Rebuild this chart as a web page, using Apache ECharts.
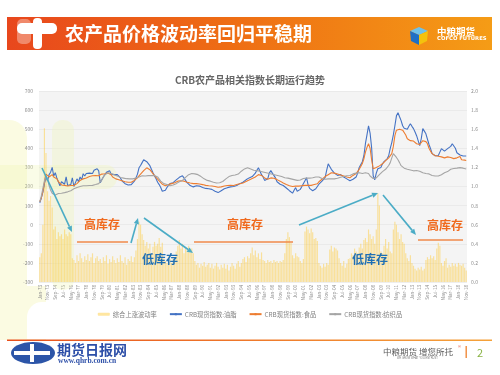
<!DOCTYPE html>
<html>
<head>
<meta charset="utf-8">
<script src="https://cdn.jsdelivr.net/npm/echarts@6/dist/echarts.min.js"></script>
<style>
  html, body { margin: 0; padding: 0; background: #fff; }
  #chart { width: 500px; height: 375px; }
</style>
</head>
<body>
<div id="chart"></div>
<script>
// x 轴：1973年1月起，每两个月一个点，到 2018年11月
const monthNames = ['Jan','Feb','Mar','Apr','May','Jun','Jul','Aug','Sep','Oct','Nov','Dec'];
const categories = [];
for (let i = 0; i < 276; i++) {
  const m = i * 2;
  const yy = (73 + Math.floor(m / 12)) % 100;
  categories.push(monthNames[m % 12] + '-' + String(yy).padStart(2, '0'));
}

const leftTicks = { min: -300, max: 700, step: 100 };
const rightTicks = { min: 0, max: 2.0, step: 0.2 };

const seriesNames = ['综合上涨波动率', 'CRB现货指数:油脂', 'CRB现货指数:食品', 'CRB现货指数:纺织品'];

// 综合上涨波动率（右轴）
const volatility = [
  0.26, 0.3, 0.6, 1.61, 1.35, 0.95, 0.85, 0.9, 0.78, 0.55,
  0.58, 0.45, 0.52, 0.48, 0.5, 0.45, 0.55, 0.5, 0.48, 0.52,
  0.5, 0.25, 0.23, 0.2, 0.28, 0.22, 0.3, 0.25, 0.21, 0.27,
  0.23, 0.29, 0.22, 0.26, 0.3, 0.2, 0.25, 0.27, 0.22, 0.24,
  0.2, 0.26, 0.22, 0.28, 0.19, 0.24, 0.21, 0.27, 0.23, 0.2,
  0.25, 0.21, 0.28, 0.22, 0.2, 0.26, 0.18, 0.24, 0.22, 0.27,
  0.21, 0.26, 0.33, 0.45, 0.63, 0.6, 0.5, 0.44, 0.38, 0.42,
  0.35, 0.4, 0.3, 0.37, 0.42, 0.38, 0.4, 0.46, 0.37, 0.41,
  0.25, 0.22, 0.2, 0.27, 0.24, 0.2, 0.26, 0.23, 0.32, 0.38,
  0.44, 0.35, 0.4, 0.3, 0.36, 0.33, 0.38, 0.31, 0.35, 0.3,
  0.22, 0.18, 0.2, 0.15, 0.19, 0.17, 0.21, 0.16, 0.18, 0.2,
  0.15, 0.19, 0.14, 0.17, 0.2, 0.16, 0.13, 0.18, 0.15, 0.19,
  0.14, 0.18, 0.12, 0.16, 0.2, 0.17, 0.14, 0.19, 0.22, 0.16,
  0.2, 0.24, 0.26, 0.21, 0.27, 0.25, 0.3, 0.36, 0.28, 0.33,
  0.26, 0.3, 0.24, 0.31, 0.23, 0.22, 0.2, 0.23, 0.21, 0.22,
  0.2, 0.23, 0.21, 0.22, 0.2, 0.22, 0.21, 0.23, 0.3, 0.45,
  0.52, 0.47, 0.41, 0.28, 0.25, 0.3, 0.27, 0.26, 0.22, 0.2,
  0.24, 0.53, 0.58, 0.55, 0.51, 0.56, 0.52, 0.45, 0.46, 0.43,
  0.2, 0.17, 0.15, 0.19, 0.16, 0.2, 0.18, 0.34, 0.38, 0.32,
  0.36, 0.35, 0.33, 0.25, 0.2, 0.17, 0.22, 0.15, 0.19, 0.24,
  0.25, 0.3, 0.28, 0.35, 0.32, 0.3, 0.36, 0.4, 0.35, 0.44,
  0.46, 0.42, 0.55, 0.5, 0.45, 0.48, 0.4, 0.55, 0.93, 0.8,
  0.32, 0.3, 0.38, 0.45, 0.35, 0.42, 0.32, 0.3, 0.55, 0.63,
  0.6, 0.52, 0.45, 0.5, 0.42, 0.4, 0.3, 0.25, 0.22, 0.28,
  0.2, 0.17, 0.14, 0.12, 0.15, 0.13, 0.16, 0.12, 0.14, 0.23,
  0.26, 0.24, 0.28, 0.25, 0.27, 0.23, 0.35, 0.41, 0.38, 0.2,
  0.17, 0.22, 0.25, 0.15, 0.18, 0.16, 0.2, 0.17, 0.19, 0.16,
  0.2, 0.18, 0.17, 0.19, 0.15, 0.12
];

// CRB现货指数:油脂
const oils = [
  115, 140, 170, 215, 250, 230, 262, 275, 300, 255,
  272, 245, 225, 204, 225, 232, 212, 250, 205, 200,
  210, 245, 200, 208, 240, 225, 250, 235, 267, 255,
  268, 262, 270, 280, 268, 285, 275, 293, 282, 220,
  235, 250, 262, 275, 272, 283, 265, 270, 262, 268,
  262, 258, 245, 230, 220, 215, 210, 208, 204, 210,
  215, 228, 245, 265, 298, 310, 325, 340, 350, 330,
  320, 309, 290, 272, 255, 240, 222, 210, 195, 175,
  168, 180, 195, 205, 215, 210, 220, 228, 235, 245,
  248, 252, 256, 245, 232, 220, 212, 205, 200, 198,
  200, 204, 206, 202, 198, 195, 192, 190, 188, 188,
  188, 185, 180, 175, 170, 168, 172, 178, 185, 188,
  190, 194, 196, 198, 204, 200, 198, 205, 210, 215,
  218, 222, 228, 235, 240, 245, 248, 252, 256, 270,
  285, 298, 280, 262, 250, 232, 228, 240, 270, 283,
  270, 262, 245, 225, 218, 212, 208, 205, 200, 192,
  188, 178, 170, 165, 180, 194, 175, 168, 185, 200,
  204, 230, 246, 210, 190, 180, 178, 182, 188, 190,
  212, 220, 228, 238, 246, 285, 319, 305, 290, 293,
  270, 262, 258, 256, 262, 258, 250, 245, 240, 235,
  230, 235, 238, 240, 250, 270, 300, 309, 330, 361,
  424, 470, 518, 480, 403, 256, 235, 270, 293, 290,
  300, 319, 330, 335, 345, 361, 400, 430, 470, 518,
  570, 586, 565, 545, 518, 505, 503, 500, 515, 529,
  515, 503, 485, 466, 440, 414, 450, 503, 490, 476,
  470, 420, 398, 372, 368, 361, 365, 362, 380, 398,
  395, 385, 390, 398, 403, 410, 424, 420, 400, 377,
  372, 365, 362, 360, 361, 360
];

// CRB现货指数:食品
const foods = [
  120, 140, 175, 220, 265, 262, 250, 258, 262, 250,
  250, 240, 225, 215, 208, 204, 206, 204, 203, 205,
  205, 204, 205, 212, 215, 225, 232, 236, 240, 242,
  245, 248, 252, 254, 256, 255, 257, 258, 256, 262,
  265, 266, 267, 268, 270, 272, 262, 250, 246, 240,
  238, 235, 232, 230, 228, 225, 223, 222, 220, 222,
  225, 232, 240, 246, 255, 265, 275, 283, 290, 298,
  295, 288, 280, 267, 258, 248, 238, 230, 222, 212,
  205, 204, 206, 210, 213, 215, 217, 220, 225, 228,
  230, 230, 232, 228, 225, 222, 220, 218, 216, 215,
  215, 215, 214, 213, 212, 210, 208, 206, 205, 204,
  204, 203, 202, 200, 198, 196, 196, 198, 200, 203,
  204, 205, 206, 206, 205, 205, 207, 210, 212, 214,
  216, 218, 222, 226, 230, 234, 238, 242, 246, 250,
  256, 262, 265, 258, 250, 245, 240, 238, 240, 245,
  245, 243, 240, 236, 232, 228, 224, 218, 214, 210,
  206, 204, 202, 200, 200, 202, 203, 202, 202, 204,
  205, 206, 208, 206, 205, 206, 208, 210, 212, 214,
  225, 230, 238, 246, 252, 256, 262, 268, 272, 275,
  270, 268, 265, 262, 260, 258, 255, 252, 250, 248,
  246, 250, 258, 265, 268, 275, 290, 305, 320, 345,
  380, 405, 424, 400, 340, 293, 285, 300, 305, 308,
  312, 319, 325, 335, 345, 350, 360, 372, 410, 466,
  495, 503, 500, 492, 495, 503, 470, 450, 445, 440,
  440, 438, 430, 424, 414, 420, 430, 440, 450, 435,
  424, 400, 385, 372, 365, 361, 360, 358, 355, 355,
  352, 350, 352, 355, 355, 352, 348, 346, 348, 350,
  350, 357, 340, 335, 338, 336
];

// CRB现货指数:纺织品
const textiles = [
  120, 150, 190, 230, 255, 240, 205, 180, 165, 155,
  155, 160, 163, 165, 165, 167, 168, 170, 172, 175,
  178, 185, 188, 190, 195, 198, 200, 202, 204, 204,
  204, 205, 205, 206, 206, 208, 210, 212, 215, 220,
  235, 250, 262, 267, 272, 270, 268, 265, 262, 258,
  255, 250, 247, 246, 244, 242, 241, 240, 240, 239,
  240, 242, 245, 246, 250, 254, 256, 256, 255, 256,
  257, 256, 257, 258, 258, 257, 250, 240, 228, 218,
  215, 212, 210, 206, 204, 205, 208, 210, 215, 220,
  225, 228, 232, 240, 248, 256, 262, 266, 268, 267,
  266, 265, 262, 258, 252, 246, 240, 236, 232, 230,
  228, 225, 222, 220, 218, 218, 220, 222, 226, 232,
  240, 246, 252, 256, 258, 258, 260, 262, 265, 272,
  280, 288, 292, 295, 298, 295, 292, 288, 285, 283,
  283, 282, 280, 278, 276, 275, 272, 270, 268, 266,
  264, 262, 260, 258, 256, 254, 252, 248, 246, 245,
  244, 242, 240, 238, 236, 234, 232, 232, 234, 238,
  242, 245, 244, 243, 244, 245, 246, 248, 250, 255,
  250, 245, 242, 240, 238, 238, 240, 242, 240, 238,
  240, 242, 243, 245, 248, 250, 252, 254, 256, 256,
  258, 262, 266, 267, 270, 272, 272, 270, 268, 270,
  272, 272, 268, 255, 246, 242, 240, 245, 255, 262,
  270, 278, 285, 290, 293, 310, 325, 350, 372, 365,
  352, 340, 325, 309, 300, 296, 293, 290, 288, 286,
  283, 282, 283, 284, 283, 280, 276, 272, 270, 268,
  267, 266, 262, 258, 256, 255, 254, 255, 258, 262,
  268, 272, 274, 278, 285, 290, 293, 294, 295, 296,
  298, 299, 298, 296, 294, 292
];

const FONT = '"Noto Sans CJK SC", "Noto Sans", sans-serif';
const TEAL = '#4bacc6';
const ORANGE_LINE = '#f08a4b';

// 箭头：线段 + 三角形箭头
function arrow(x1, y1, x2, y2) {
  const ang = Math.atan2(y2 - y1, x2 - x1);
  const len = 6, half = 2.6;
  const bx = x2 - len * Math.cos(ang), by = y2 - len * Math.sin(ang);
  return [
    { type: 'line', z: 100, shape: { x1, y1, x2: bx, y2: by }, style: { stroke: TEAL, lineWidth: 1.6 } },
    { type: 'polygon', z: 100, shape: { points: [
      [x2, y2],
      [bx + half * Math.sin(ang), by - half * Math.cos(ang)],
      [bx - half * Math.sin(ang), by + half * Math.cos(ang)]
    ] }, style: { fill: TEAL } }
  ];
}
function hline(x1, x2, y) {
  return { type: 'line', z: 100, shape: { x1, y1: y, x2, y2: y }, style: { stroke: ORANGE_LINE, lineWidth: 1.6 } };
}
function label(text, x, y, color) {
  return { type: 'text', z: 100, x, y, style: { text, fill: color, font: 'bold 12px ' + FONT, textAlign: 'center', textVerticalAlign: 'middle' } };
}

const graphics = [
  // 左侧淡黄装饰
  { type: 'rect', z: 0, shape: { x: 0, y: 120, width: 27, height: 220, r: [0, 18, 0, 0] }, style: { fill: '#fbfbe2' } },
  { type: 'rect', z: 0, shape: { x: 0, y: 286, width: 46, height: 54 }, style: { fill: '#fbfbe2' } },
  { type: 'rect', z: 0, shape: { x: 27, y: 302, width: 80, height: 37, r: [15, 0, 0, 0] }, style: { fill: '#ffffff' } },
  // 图区内淡色“十”字
  { type: 'rect', z: 1, shape: { x: 52, y: 120, width: 22, height: 170, r: 10 }, style: { fill: 'rgba(240,245,180,0.32)' } },
  { type: 'rect', z: 1, shape: { x: 0, y: 165, width: 117, height: 24, r: [0, 11, 11, 0] }, style: { fill: 'rgba(240,245,180,0.32)' } },

  // 顶部标题栏
  { type: 'rect', z: 100, shape: { x: 7, y: 17, width: 485, height: 33 },
    style: { fill: new echarts.graphic.LinearGradient(0, 0, 1, 0, [
      { offset: 0, color: '#e8471d' }, { offset: 0.45, color: '#ee6c14' }, { offset: 1, color: '#f59c16' }]) } },
  { type: 'rect', z: 101, shape: { x: 17, y: 19, width: 14, height: 25, r: 5 }, style: { fill: 'rgba(255,255,255,0.35)' } },
  { type: 'rect', z: 101, shape: { x: 17, y: 23, width: 40, height: 11, r: 5 }, style: { fill: '#ffffff' } },
  { type: 'rect', z: 101, shape: { x: 33, y: 18, width: 9, height: 31, r: 4 }, style: { fill: '#ffffff' } },
  { type: 'text', z: 101, x: 65, y: 34, style: { text: '农产品价格波动率回归平稳期', fill: '#ffffff',
    font: 'bold 19px ' + FONT, textAlign: 'left', textVerticalAlign: 'middle' } },
  // 中粮期货 logo
  { type: 'polygon', z: 101, shape: { points: [[419, 27], [428, 31], [419, 35], [410, 31]] }, style: { fill: '#6ec1ea' } },
  { type: 'polygon', z: 101, shape: { points: [[410, 31], [419, 35], [419, 45], [411, 41]] }, style: { fill: '#1f6fc6' } },
  { type: 'polygon', z: 101, shape: { points: [[419, 35], [428, 31], [427, 41], [419, 45]] }, style: { fill: '#f4c20d' } },
  { type: 'text', z: 101, x: 437, y: 31, style: { text: '中粮期货', fill: '#ffffff', font: 'bold 9.5px ' + FONT, textVerticalAlign: 'middle' } },
  { type: 'text', z: 101, x: 437, y: 39, style: { text: 'COFCO FUTURES', fill: '#ffffff', font: 'bold 5.3px "DejaVu Sans", sans-serif', textVerticalAlign: 'middle' } },

  // 底部
  { type: 'rect', z: 100, shape: { x: 7, y: 339.5, width: 485, height: 1.4 },
    style: { fill: new echarts.graphic.LinearGradient(0, 0, 1, 0, [
      { offset: 0, color: '#e8501c' }, { offset: 1, color: '#f5a23a' }]) } },
  { type: 'ellipse', z: 100, shape: { cx: 33, cy: 353, rx: 22, ry: 11 }, style: { fill: '#2c55a8' } },
  { type: 'rect', z: 101, shape: { x: 14, y: 351, width: 36, height: 4 }, style: { fill: '#ffffff' } },
  { type: 'rect', z: 101, shape: { x: 30, y: 344, width: 4, height: 18 }, style: { fill: '#ffffff' } },
  { type: 'text', z: 100, x: 57, y: 350, style: { text: '期货日报网', fill: '#2d4fa8', font: 'bold 14px "Noto Sans CJK SC", serif', textVerticalAlign: 'middle' } },
  { type: 'text', z: 100, x: 58, y: 361, style: { text: 'www.qhrb.com.cn', fill: '#2d4fa8', font: 'bold 7.5px "Liberation Serif", serif', textVerticalAlign: 'middle' } },
  { type: 'text', z: 100, x: 383, y: 352, style: { text: '中粮期货 增您所托', fill: '#5a5a5a', font: '8.5px ' + FONT, textVerticalAlign: 'middle' } },
  { type: 'text', z: 100, x: 458, y: 347, style: { text: '®', fill: '#e0402a', font: '4px sans-serif', textVerticalAlign: 'middle' } },
  { type: 'text', z: 100, x: 397, y: 358.5, style: { text: 'WE GROW WHAT YOU ENTRUST', fill: '#777', font: '2.6px sans-serif', textVerticalAlign: 'middle' } },
  { type: 'rect', z: 100, shape: { x: 465.5, y: 346, width: 1.4, height: 12 }, style: { fill: '#f08a3a' } },
  { type: 'text', z: 100, x: 477, y: 353, style: { text: '2', fill: '#8ab446', font: '11px ' + FONT, textVerticalAlign: 'middle' } },

  // 注释：箭头、横线与文字
  ...arrow(42, 168, 72, 232),
  ...arrow(131, 243, 138, 218),
  ...arrow(144, 218, 193, 253),
  ...arrow(299, 225, 378, 193),
  ...arrow(383, 195, 416, 235),
  hline(77, 128, 242),
  hline(194, 293, 242),
  hline(418, 463, 240),
  label('高库存', 102, 224, '#f06a1e'),
  label('高库存', 245, 224, '#f06a1e'),
  label('高库存', 445, 225, '#f06a1e'),
  label('低库存', 160, 259, '#1f6fb4'),
  label('低库存', 370, 259, '#1f6fb4')
];

const chart = echarts.init(document.getElementById('chart'));
chart.setOption({
  animation: false,
  backgroundColor: '#ffffff',
  textStyle: { fontFamily: FONT },
  title: {
    text: 'CRB农产品相关指数长期运行趋势',
    left: 'center',
    top: 70,
    textStyle: { fontSize: 10, fontWeight: 'bold', color: '#666666', fontFamily: FONT }
  },
  legend: {
    top: 306,
    left: 'center',
    itemGap: 12,
    itemWidth: 12,
    itemHeight: 3,
    textStyle: { fontSize: 6.3, color: '#808080', padding: [0, 0, 0, -2] },
    data: seriesNames
  },
  grid: {
    left: 39, right: 33, top: 91, bottom: 93,
    show: true, backgroundColor: '#f4f4f4', borderWidth: 0
  },
  xAxis: {
    type: 'category',
    data: categories,
    axisLine: { show: false },
    axisTick: { show: false },
    axisLabel: { interval: 4, rotate: 90, fontSize: 4.6, color: '#8c8c8c', margin: 3 }
  },
  yAxis: [
    {
      type: 'value', min: leftTicks.min, max: leftTicks.max, interval: leftTicks.step,
      axisLine: { show: false }, axisTick: { show: false },
      axisLabel: { fontSize: 5, color: '#8c8c8c', margin: 6 },
      splitLine: { lineStyle: { color: '#e2e2e2', width: 0.6 } }
    },
    {
      type: 'value', min: rightTicks.min, max: rightTicks.max, interval: rightTicks.step,
      axisLine: { show: false }, axisTick: { show: false },
      axisLabel: { fontSize: 5, color: '#8c8c8c', margin: 4, formatter: v => v.toFixed(1) },
      splitLine: { show: false }
    }
  ],
  series: [
    {
      name: seriesNames[0], type: 'bar', yAxisIndex: 1, data: volatility,
      barWidth: '75%', itemStyle: { color: 'rgba(255,200,45,0.45)' }
    },
    {
      name: seriesNames[1], type: 'line', yAxisIndex: 0, data: oils, symbol: 'none',
      lineStyle: { color: '#4472c4', width: 1.1 }, itemStyle: { color: '#4472c4' }
    },
    {
      name: seriesNames[2], type: 'line', yAxisIndex: 0, data: foods, symbol: 'none',
      lineStyle: { color: '#ed7d31', width: 1.1 }, itemStyle: { color: '#ed7d31' }
    },
    {
      name: seriesNames[3], type: 'line', yAxisIndex: 0, data: textiles, symbol: 'none',
      lineStyle: { color: '#a5a5a5', width: 1.1 }, itemStyle: { color: '#a5a5a5' }
    }
  ],
  graphic: { elements: graphics }
});
window.addEventListener('resize', () => chart.resize());
</script>
</body>
</html>
